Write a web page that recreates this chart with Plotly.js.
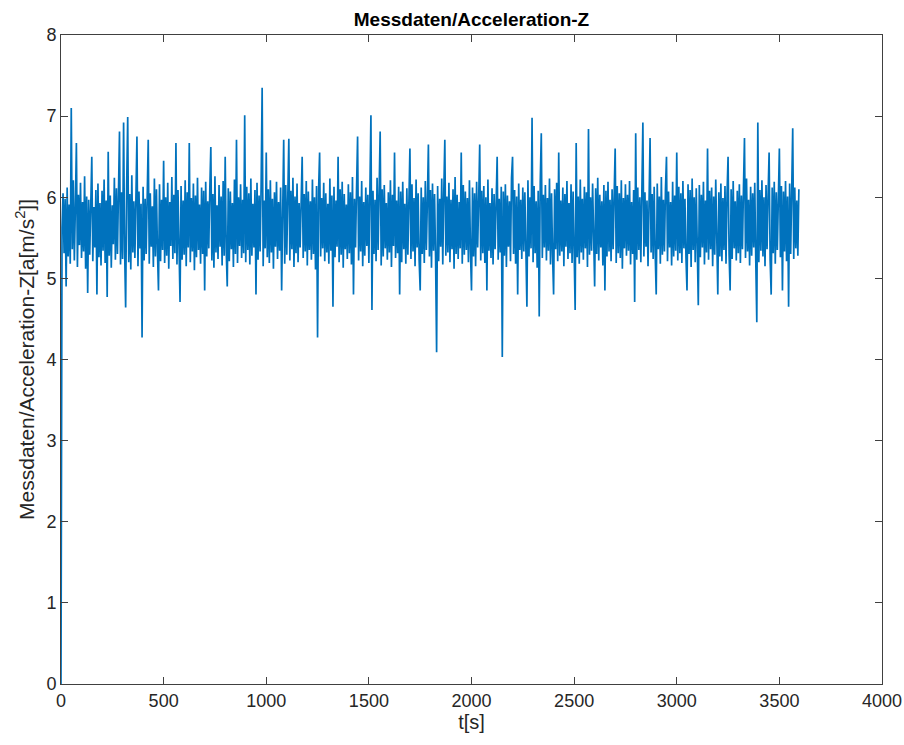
<!DOCTYPE html>
<html>
<head>
<meta charset="utf-8">
<script src="https://cdn.plot.ly/plotly-3.0.1.min.js"></script>
<style>html,body{margin:0;padding:0;background:#fff;}#chart{width:904px;height:745px;}</style>
</head>
<body>
<div id="chart"></div>
<script>
// sampling: first sample at t=0 s, one sample every 5 s
const tStart = 0;
const tStep = 5;
const accelZ = [
0, 5.62, 6.05, 5.31, 5.98, 4.9, 6.12, 5.27, 5.91, 5.18, 7.10, 5.36, 6.21, 5.22, 5.87, 6.67, 5.14, 6.03, 5.41, 6.18,
5.25, 5.94, 5.33, 6.26, 5.12, 6.01, 4.82, 5.97, 5.29, 6.14, 6.5, 5.21, 5.88, 5.38, 6.09, 4.8, 6.17, 5.26, 5.93, 5.16,
6.08, 5.34, 6.22, 5.19, 5.96, 4.77, 6.56, 5.28, 6.02, 5.13, 5.9, 5.42, 6.24, 5.23, 6.11, 5.3, 5.99, 6.81, 5.17, 6.06,
5.24, 6.92, 5.35, 4.64, 6.15, 6.99, 5.2, 6.04, 5.11, 6.27, 5.32, 5.95, 5.25, 6.19, 6.75, 5.15, 6.07, 5.37, 5.92, 4.27,
6.13, 5.22, 5.98, 5.3, 6.2, 6.71, 5.18, 6.05, 5.39, 5.89, 5.14, 6.23, 5.27, 6.1, 5.33, 4.85, 6.16, 5.21, 5.97, 5.35,
6.45, 5.19, 6.0, 5.28, 6.18, 5.12, 5.94, 5.4, 6.25, 5.24, 6.03, 5.31, 6.67, 5.17, 6.09, 5.36, 4.71, 6.14, 5.23, 5.96,
5.29, 6.21, 5.15, 6.06, 5.38, 6.67, 5.2, 5.99, 5.33, 6.17, 5.1, 6.02, 5.26, 6.24, 5.35, 5.91, 5.18, 6.12, 5.3, 6.08,
4.85, 6.19, 5.27, 5.95, 5.37, 6.1, 6.62, 5.22, 6.04, 5.13, 6.26, 5.32, 5.9, 5.24, 6.15, 5.39, 6.01, 5.16, 6.2, 5.28,
6.5, 5.34, 4.9, 6.11, 5.21, 6.07, 5.36, 5.93, 5.14, 6.22, 5.3, 6.71, 5.19, 6.0, 5.4, 6.16, 5.25, 5.97, 5.31, 7.01,
5.2, 6.13, 5.35, 6.05, 5.17, 6.23, 5.28, 5.92, 5.38, 6.09, 4.8, 6.18, 5.23, 6.02, 5.33, 6.14, 7.35, 5.15, 5.96, 5.37,
6.55, 5.26, 6.1, 5.19, 6.21, 5.32, 5.98, 5.12, 6.06, 5.39, 6.19, 5.24, 5.94, 5.34, 6.12, 4.85, 6.03, 6.71, 5.18, 6.15,
5.29, 5.97, 6.72, 5.22, 6.08, 5.36, 6.24, 5.14, 6.01, 5.31, 6.17, 5.2, 5.93, 5.38, 6.11, 6.5, 5.25, 6.04, 5.33, 6.2,
5.16, 6.07, 5.35, 5.95, 5.23, 6.22, 5.3, 6.0, 5.11, 6.14, 4.27, 6.09, 6.55, 5.27, 5.99, 5.37, 6.18, 5.21, 6.05, 5.32,
5.92, 5.18, 6.23, 5.34, 6.02, 4.65, 6.13, 5.26, 5.96, 5.39, 6.5, 5.2, 6.1, 5.29, 6.19, 5.13, 6.04, 5.36, 5.91, 5.24,
6.16, 5.31, 6.06, 5.17, 6.25, 4.8, 5.98, 5.38, 6.11, 6.75, 5.22, 6.01, 5.33, 6.2, 5.15, 5.94, 5.28, 6.12, 5.4, 6.03,
5.19, 6.18, 7.01, 4.61, 6.08, 5.3, 5.97, 5.21, 6.24, 5.35, 6.0, 6.81, 5.16, 6.1, 5.27, 6.15, 5.37, 5.93, 5.23, 6.06,
5.32, 6.21, 5.14, 6.03, 5.4, 6.55, 5.25, 5.96, 5.31, 6.13, 4.8, 6.07, 5.2, 6.19, 5.36, 5.92, 5.18, 6.11, 5.29, 6.02,
6.6, 5.24, 6.16, 5.33, 5.99, 5.15, 6.22, 5.38, 6.05, 5.22, 4.85, 6.12, 5.3, 6.0, 5.19, 6.2, 5.35, 5.95, 6.65, 5.27,
6.09, 5.13, 6.17, 5.34, 6.04, 5.26, 4.09, 6.14, 5.21, 5.98, 5.39, 6.23, 5.17, 6.06, 6.71, 5.28, 6.01, 5.32, 6.18, 5.2,
5.97, 5.36, 6.1, 5.12, 6.25, 5.3, 6.03, 5.24, 5.94, 5.37, 6.55, 5.18, 6.15, 5.29, 6.07, 5.35, 5.99, 5.2, 6.21, 5.33,
4.85, 6.12, 5.27, 6.05, 5.15, 6.19, 5.38, 5.96, 6.65, 5.22, 6.08, 5.31, 6.14, 5.19, 6.0, 4.85, 6.22, 5.34, 5.93, 5.25,
6.11, 5.17, 6.04, 5.36, 6.2, 6.5, 5.23, 5.98, 5.32, 6.13, 4.03, 6.07, 5.28, 6.16, 5.14, 6.02, 5.39, 5.95, 5.21, 6.24,
6.5, 5.3, 6.09, 5.18, 6.01, 4.8, 6.17, 5.35, 5.97, 5.24, 6.12, 5.33, 6.06, 5.16, 4.65, 6.21, 5.27, 6.0, 5.37, 6.98,
5.2, 6.14, 5.31, 5.95, 5.13, 6.08, 4.53, 6.19, 6.79, 5.25, 6.03, 5.38, 6.15, 5.22, 5.99, 5.34, 6.23, 5.17, 6.05, 5.29,
4.8, 6.1, 5.36, 6.18, 5.21, 6.55, 5.28, 5.96, 5.33, 6.12, 5.15, 6.04, 5.39, 6.2, 5.24, 5.93, 5.31, 6.16, 5.19, 6.07,
5.35, 4.61, 6.67, 5.26, 6.01, 5.18, 6.22, 5.32, 5.98, 5.23, 6.13, 5.37, 6.06, 5.14, 6.84, 5.29, 6.0, 5.34, 6.17, 5.2,
4.9, 6.11, 5.3, 6.24, 5.22, 6.03, 5.38, 5.95, 5.16, 6.15, 4.85, 6.08, 5.27, 6.19, 5.33, 5.97, 5.21, 6.1, 5.36, 6.02,
6.6, 5.19, 6.14, 5.31, 6.05, 5.25, 6.21, 5.12, 5.99, 5.37, 6.16, 5.28, 6.03, 5.34, 6.2, 5.17, 5.94, 5.3, 6.09, 4.71,
6.79, 5.23, 6.12, 5.35, 6.0, 5.2, 6.18, 6.92, 5.27, 6.06, 5.39, 5.96, 5.15, 6.22, 6.73, 5.32, 6.04, 5.24, 6.13, 5.3,
4.8, 6.17, 5.36, 6.01, 5.18, 6.25, 5.29, 5.97, 5.33, 6.1, 6.5, 5.21, 6.07, 5.38, 5.94, 5.16, 6.19, 5.27, 6.02, 5.34,
6.55, 5.22, 6.13, 5.31, 6.05, 5.19, 6.2, 5.37, 5.98, 5.25, 4.85, 6.16, 5.3, 6.09, 5.14, 6.23, 5.35, 6.0, 5.2, 6.11,
5.33, 4.67, 6.15, 5.26, 6.03, 5.38, 6.19, 5.17, 5.96, 5.32, 6.6, 5.23, 6.08, 5.36, 6.12, 5.15, 6.01, 5.29, 6.22, 5.34,
4.8, 6.06, 5.27, 6.17, 5.21, 5.99, 5.35, 6.14, 5.18, 6.04, 6.5, 5.3, 4.85, 6.1, 5.24, 6.2, 5.37, 5.95, 5.22, 6.08,
5.31, 6.16, 5.19, 6.02, 5.36, 6.11, 6.73, 5.25, 6.23, 5.33, 5.97, 5.16, 6.13, 5.28, 6.05, 5.38, 6.18, 5.22, 4.46, 6.92,
5.2, 6.09, 5.34, 6.21, 5.27, 6.0, 5.15, 6.15, 5.36, 6.03, 6.55, 5.23, 4.8, 6.12, 5.31, 6.19, 5.18, 6.06, 5.35, 5.98,
6.6, 5.26, 6.14, 4.85, 6.07, 5.33, 6.2, 5.21, 6.01, 4.65, 6.17, 5.3, 6.05, 6.85, 5.24, 6.12, 5.37, 5.96, 5.28, 6.1
];
const xTicks = [0, 500, 1000, 1500, 2000, 2500, 3000, 3500, 4000];
const yTicks = [0, 1, 2, 3, 4, 5, 6, 7, 8];

const axisColor = '#404040';
const fam = 'Liberation Sans, Arial, Helvetica, sans-serif';

const trace = {
  type: 'scatter',
  mode: 'lines',
  x0: tStart,
  dx: tStep,
  y: accelZ,
  line: {color: '#0072BD', width: 1.7},
  hoverinfo: 'skip'
};

const axisCommon = {
  showgrid: false,
  zeroline: false,
  showline: true,
  mirror: 'ticks',
  linecolor: axisColor,
  linewidth: 1,
  ticks: 'inside',
  ticklen: 7,
  tickwidth: 1,
  tickcolor: axisColor,
  tickfont: {family: fam, size: 18, color: '#262626'}
};

const layout = {
  width: 904,
  height: 745,
  margin: {l: 61, r: 22, t: 35, b: 61},
  paper_bgcolor: '#ffffff',
  plot_bgcolor: '#ffffff',
  font: {family: fam, size: 18, color: '#262626'},
  showlegend: false,
  title: {
    text: '<b>Messdaten/Acceleration-Z</b>',
    font: {family: fam, size: 19, color: '#000000'},
    x: 0.5, xref: 'paper', xanchor: 'center',
    y: 1, yref: 'paper', yanchor: 'bottom', pad: {b: 9}
  },
  xaxis: Object.assign({}, axisCommon, {
    range: [0, 4000],
    tickvals: xTicks,
    ticktext: xTicks.map(String),
    title: {text: 't[s]', font: {family: fam, size: 20, color: '#262626'}, standoff: 4}
  }),
  yaxis: Object.assign({}, axisCommon, {
    range: [0, 8],
    tickvals: yTicks,
    ticktext: yTicks.map(String),
    title: {text: 'Messdaten/Acceleration-Z[a[m/s<sup>2</sup>]]', font: {family: fam, size: 21, color: '#262626'}, standoff: 6}
  })
};

Plotly.newPlot('chart', [trace], layout, {staticPlot: true, displayModeBar: false});
</script>
</body>
</html>
